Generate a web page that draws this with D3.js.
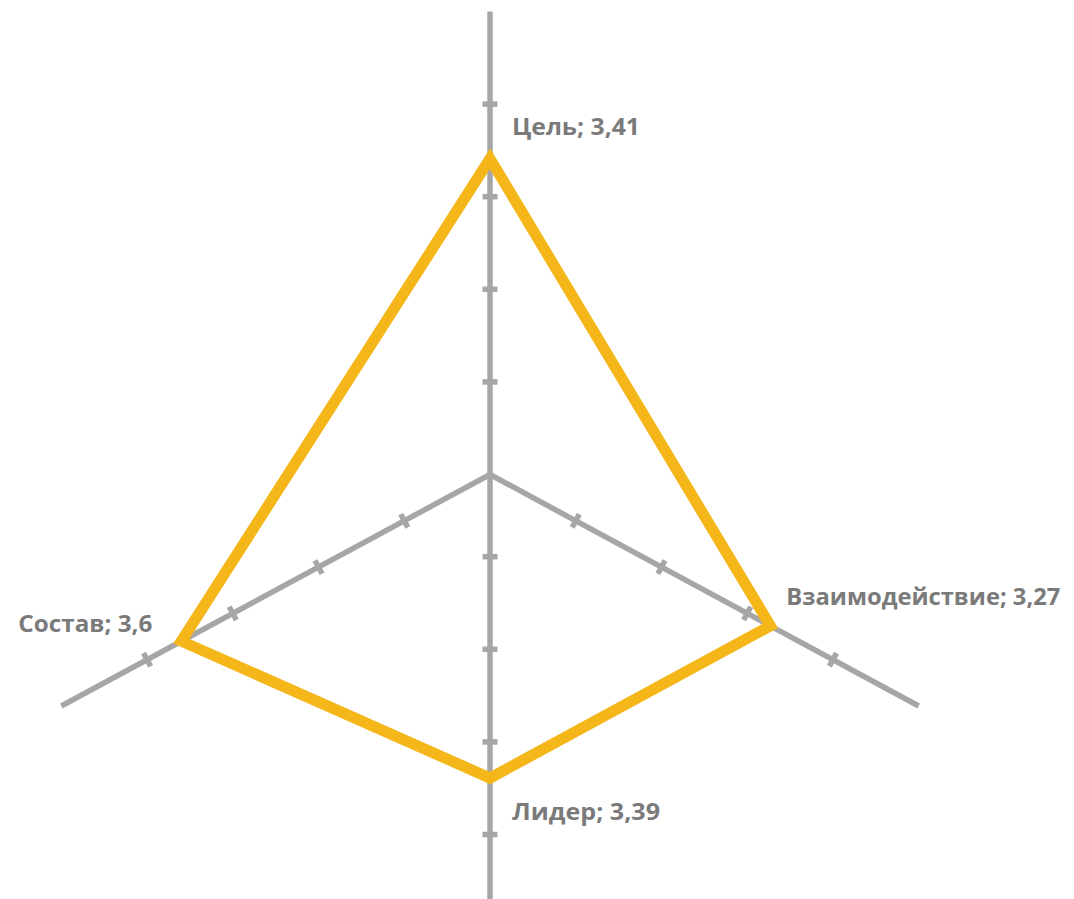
<!DOCTYPE html>
<html>
<head>
<meta charset="utf-8">
<script src="https://cdn.jsdelivr.net/npm/d3@7"></script>
<style>
  html, body { margin: 0; padding: 0; background: #ffffff; }
  svg { display: block; }
</style>
</head>
<body>
<svg id="chart" width="1074" height="899"></svg>
<script>
// ---- data ----
const categories = ["Цель", "Взаимодействие", "Лидер", "Состав"];
const values = [3.41, 3.27, 3.39, 3.6];
const valueLabels = ["3,41", "3,27", "3,39", "3,6"];
const tickValues = [1, 2, 3, 4];
const axisMax = 5;

// ---- layout ----
const W = 1074, H = 899;
const cx = 490, cy = 474.5;
const Rx = 495, Ry = 463;                 // length of 5 units horizontally / vertically
const angles = [0, 120, 180, 240];        // degrees, clockwise from top
const originShift = [0, 0, -10.4, 0];     // px shift of each spoke's zero
const labelLayout = [
  { dx: 22, dy: -24, anchor: "start", width: 128 },
  { dx: 16, dy: -21, anchor: "start", width: 274 },
  { dx: 22, dy: 42, anchor: "start", width: 148 },
  { dx: -29, dy: -9, anchor: "end", width: 134 }
];

const svg = d3.select("#chart");
svg.append("rect").attr("width", W).attr("height", H).attr("fill", "#ffffff");

const r = d3.scaleLinear().domain([0, axisMax]).range([0, 1]);

function pos(i, v) {
  const a = angles[i] * Math.PI / 180;
  const ux = Math.sin(a) * Rx, uy = -Math.cos(a) * Ry;
  const norm = Math.hypot(ux, uy);
  const t = r(v);
  const shiftPx = originShift[i];
  return [cx + ux * t + (ux / norm) * shiftPx, cy + uy * t + (uy / norm) * shiftPx];
}

const grey = "#A6A6A6";
const gAxes = svg.append("g");

// spokes
categories.forEach((c, i) => {
  const p1 = pos(i, axisMax);
  gAxes.append("line")
    .attr("x1", cx).attr("y1", cy)
    .attr("x2", p1[0]).attr("y2", p1[1])
    .attr("stroke", grey).attr("stroke-width", 5.5);
});

// tick marks
categories.forEach((c, i) => {
  const a = angles[i] * Math.PI / 180;
  const ux = Math.sin(a) * Rx, uy = -Math.cos(a) * Ry;
  const n = Math.hypot(ux, uy);
  const px = -uy / n, py = ux / n; // perpendicular
  tickValues.forEach(tv => {
    const p = pos(i, tv);
    gAxes.append("line")
      .attr("x1", p[0] - px * 7.5).attr("y1", p[1] - py * 7.5)
      .attr("x2", p[0] + px * 7.5).attr("y2", p[1] + py * 7.5)
      .attr("stroke", grey).attr("stroke-width", 5.5);
  });
});

// data polygon
const pts = values.map((v, i) => pos(i, v));
const line = d3.line().x(d => d[0]).y(d => d[1]).curve(d3.curveLinearClosed);
svg.append("path")
  .attr("d", line(pts))
  .attr("fill", "none")
  .attr("stroke", "#F4B619")
  .attr("stroke-width", 11)
  .attr("stroke-linejoin", "miter")
  .attr("stroke-miterlimit", 10);

// labels
categories.forEach((c, i) => {
  const p = pts[i];
  const L = labelLayout[i];
  svg.append("text")
    .attr("x", p[0] + L.dx)
    .attr("y", p[1] + L.dy)
    .attr("text-anchor", L.anchor)
    .attr("font-family", "'Open Sans', 'Noto Sans', sans-serif")
    .attr("font-weight", "bold")
    .attr("font-size", 23.5)
    .attr("fill", "#7A7A7A")
    .attr("textLength", L.width)
    .attr("lengthAdjust", "spacingAndGlyphs")
    .text(c + "; " + valueLabels[i]);
});
</script>
</body>
</html>
